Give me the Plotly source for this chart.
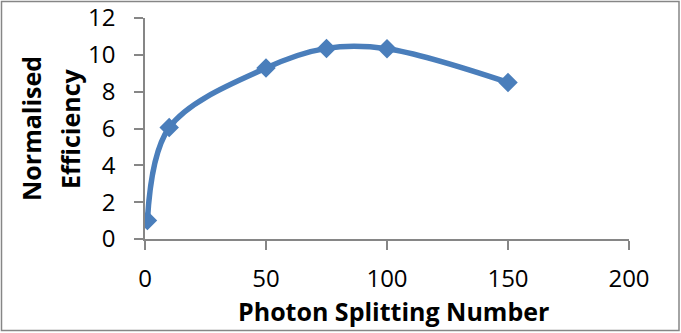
import plotly.graph_objects as go

# Photon splitting number vs normalised efficiency
splitting_number = [1, 10, 50, 75, 100, 150]
normalised_efficiency = [1.0, 6.05, 9.28, 10.35, 10.33, 8.5]

x_ticks = [0, 50, 100, 150, 200]
y_ticks = [0, 2, 4, 6, 8, 10, 12]

BLUE = "#4A7EBB"
GREY = "#868686"
FONT = "Open Sans, Liberation Sans, sans-serif"

# plot area in pixels (681 x 333 canvas)
L, R, T, B = 145, 52, 18, 94
W = 681 - L - R
H = 333 - T - B


def px_x(p):
    return (p - L) / W


def px_y(p):
    return (333 - B - p) / H


fig = go.Figure()
fig.add_trace(go.Scatter(
    x=splitting_number,
    y=normalised_efficiency,
    mode="lines+markers",
    line=dict(color=BLUE, width=5.5, shape="spline", smoothing=1),
    marker=dict(symbol="diamond", size=15, color=BLUE),
    showlegend=False,
    hoverinfo="x+y",
))

axis_common = dict(
    showgrid=False,
    zeroline=False,
    showline=True,
    linecolor=GREY,
    linewidth=1.5,
    ticks="outside",
    tickcolor=GREY,
    tickwidth=1.5,
    ticklen=9,
    automargin=False,
    tickfont=dict(family=FONT, size=24, color="#000000"),
)

title_font = dict(family=FONT, size=25, color="#000000")

fig.update_layout(
    width=681,
    height=333,
    margin=dict(l=L, r=R, t=T, b=B, autoexpand=False),
    paper_bgcolor="white",
    plot_bgcolor="white",
    xaxis=dict(range=[0, 200], tickvals=x_ticks, ticklabelstandoff=8, **axis_common),
    yaxis=dict(range=[0, 12], tickvals=y_ticks, ticklabelstandoff=14, **axis_common),
    annotations=[
        dict(
            text="<b>Photon Splitting Number</b>",
            x=px_x(393), y=px_y(311), xref="paper", yref="paper",
            xanchor="center", yanchor="middle", showarrow=False,
            font=title_font,
        ),
        dict(
            text="<b>Normalised</b>",
            x=px_x(31), y=px_y(129), xref="paper", yref="paper",
            xanchor="center", yanchor="middle", showarrow=False,
            textangle=-90, font=title_font,
        ),
        dict(
            text="<b>Efficiency</b>",
            x=px_x(70), y=px_y(129), xref="paper", yref="paper",
            xanchor="center", yanchor="middle", showarrow=False,
            textangle=-90, font=title_font,
        ),
    ],
    shapes=[
        dict(
            type="rect", xref="paper", yref="paper",
            x0=px_x(1.5), x1=px_x(679), y0=px_y(330.5), y1=px_y(1.5),
            line=dict(color=GREY, width=1.5), fillcolor="rgba(0,0,0,0)",
            layer="below",
        )
    ],
)

fig.write_html("out.html")
